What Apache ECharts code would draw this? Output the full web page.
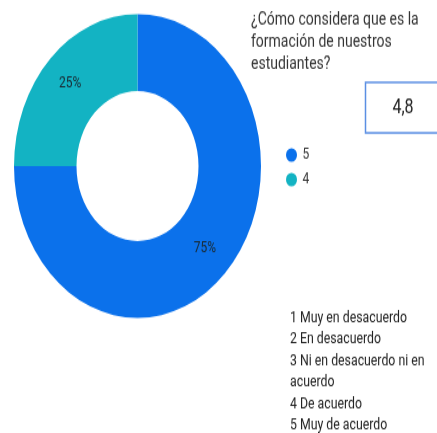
<!DOCTYPE html>
<html>
<head>
<meta charset="utf-8">
<script src="https://cdn.jsdelivr.net/npm/echarts@6/dist/echarts.min.js"></script>
<style>
    html, body { margin: 0; padding: 0; background: #fff; width: 437px; height: 433px; overflow: hidden; }
    /* the reference is stretched vertically, so draw flat and scale up */
    #main { width: 437px; height: 352px; transform: scale(1, 1.23); transform-origin: 0 0; }
</style>
</head>
<body>
<div id="main"></div>
<script>
// categorías (respuestas) y porcentajes
var categories = ["5", "4"];
var values = [75, 25];
var colors = ["#0b71eb", "#13b3c3"];
// promedio
var average = "4,8";
var titleLines = ["¿Cómo considera que es la", "formación de nuestros", "estudiantes?"];
var scaleLines = ["1 Muy en desacuerdo", "2 En desacuerdo", "3 Ni en desacuerdo ni en", "acuerdo", "4 De acuerdo", "5 Muy de acuerdo"];

var font = "Roboto";
var pieData = [];
for (var i = 0; i < categories.length; i++) {
    pieData.push({name: categories[i], value: values[i], itemStyle: {color: colors[i]}});
}

var graphics = [];
// título
graphics.push({
    type: "text", left: 251, top: 7.5,
    style: {text: titleLines.join("\n"), font: "14px " + font, fill: "#333", lineHeight: 18}
});
// caja del promedio
graphics.push({
    type: "rect", shape: {x: 365.5, y: 67, width: 80, height: 41},
    style: {fill: "#fff", stroke: "#5b8fe3", lineWidth: 1.5}
});
graphics.push({
    type: "text", x: 403, y: 87.5,
    style: {text: average, font: "16px " + font, fill: "#222", align: "center", verticalAlign: "middle"}
});
// escala
graphics.push({
    type: "text", left: 290, top: 250,
    style: {text: scaleLines.join("\n"), font: "12.3px " + font, fill: "#222", lineHeight: 17.5}
});

var option = {
    animation: false,
    legend: {
        orient: "vertical",
        left: 281,
        top: 115,
        itemWidth: 12,
        itemHeight: 11,
        itemGap: 8,
        icon: "circle",
        textStyle: {fontFamily: font, fontSize: 12, color: "#333"},
        data: categories
    },
    graphic: graphics,
    series: [{
        type: "pie",
        center: [137.5, 135],
        radius: [61, 123.5],
        startAngle: 90,
        clockwise: true,
        label: {
            show: true,
            position: "inside",
            formatter: "{d}%",
            fontFamily: font,
            fontSize: 12,
            color: "#1a2a33"
        },
        labelLine: {show: false},
        emphasis: {disabled: true},
        data: pieData
    }]
};

var chart = echarts.init(document.getElementById("main"));
chart.setOption(option);
</script>
</body>
</html>
